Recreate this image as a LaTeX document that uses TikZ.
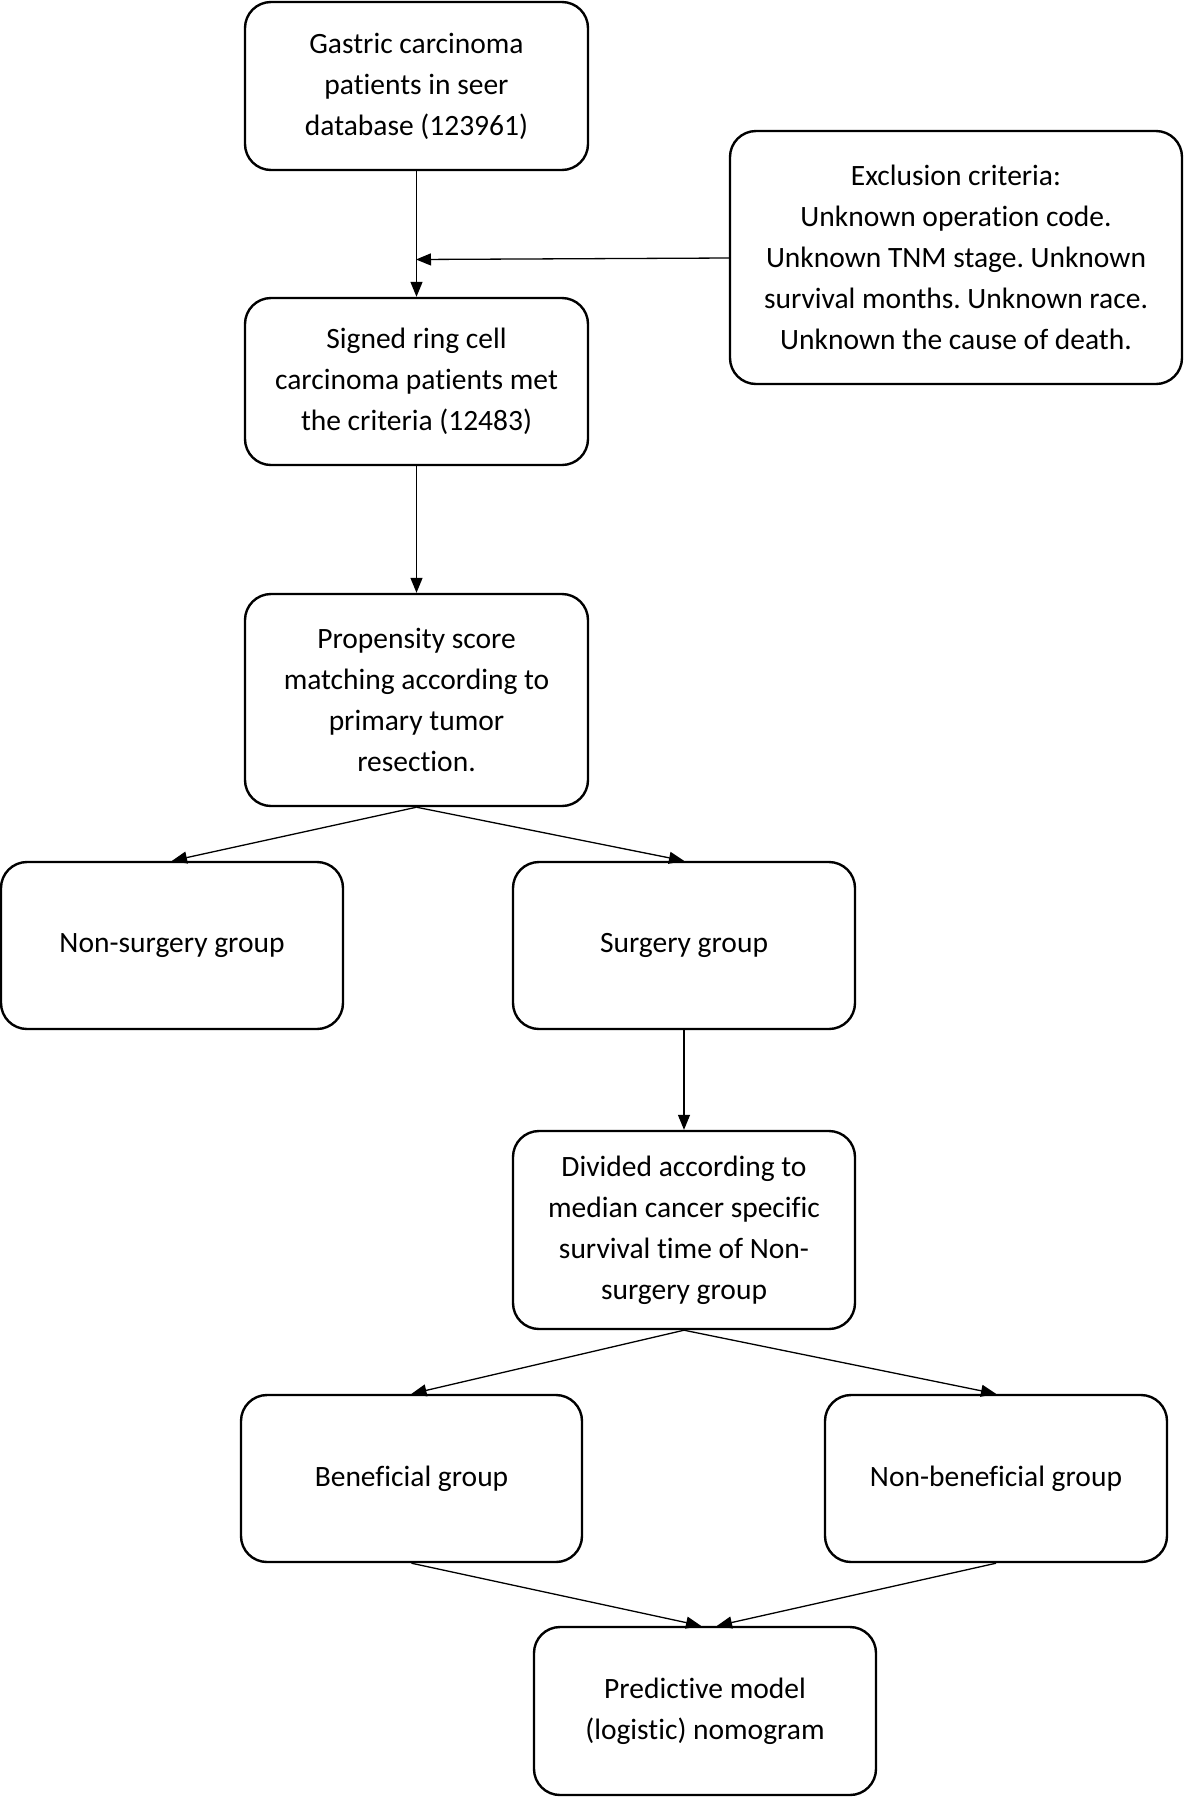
\documentclass[tikz,border=0pt]{standalone}
\usepackage{fontspec}
\setmainfont{Carlito}[Ligatures=NoCommon]
\usetikzlibrary{arrows.meta}
\frenchspacing
\begin{document}
\begin{tikzpicture}[x=1pt,y=-1pt,
  box/.style={draw=black,line width=2.4pt,rounded corners=26pt,align=center,
    inner sep=0pt,font=\fontsize{29.5}{41}\selectfont},
  conn/.style={line width=1.3pt,-{Triangle[length=15pt,width=12pt]}}]
\useasboundingbox (0,0) rectangle (1185,1797);
\node[box,minimum width=343pt,minimum height=168pt] (b1) at (416.5,86) {Gastric carcinoma\\patients in seer\\database (123961)};
\node[box,minimum width=452pt,minimum height=253pt] (ex) at (956,257.5) {Exclusion criteria:\\Unknown operation code.\\Unknown TNM stage. Unknown\\survival months. Unknown race.\\Unknown the cause of death.};
\node[box,minimum width=343pt,minimum height=167pt] (b2) at (416.5,381.5) {Signed ring cell\\carcinoma patients met\\the criteria (12483)};
\node[box,minimum width=343pt,minimum height=212pt] (b3) at (416.5,700) {Propensity score\\matching according to\\primary tumor\\resection.};
\node[box,minimum width=342pt,minimum height=167pt] (ns) at (172,945.5) {Non-surgery group};
\node[box,minimum width=342pt,minimum height=167pt] (sg) at (684,945.5) {Surgery group};
\node[box,minimum width=342pt,minimum height=198pt] (dv) at (684,1230) {Divided according to\\median cancer specific\\survival time of Non-\\surgery group};
\node[box,minimum width=341pt,minimum height=167pt] (bf) at (411.5,1478.5) {Beneficial group};
\node[box,minimum width=342pt,minimum height=167pt] (nb) at (996,1478.5) {Non-beneficial group};
\node[box,minimum width=342pt,minimum height=168pt] (pm) at (705,1711) {Predictive model\\(logistic) nomogram};
\coordinate (j) at (416,259.5);
\draw[conn] (b1.south) -- (b2.north);
\draw[conn] (ex.west |- 0,258) -- (j);
\draw[conn] (b2.south) -- (b3.north);
\draw[conn] (b3.south) -- (ns.north);
\draw[conn] (b3.south) -- (sg.north);
\draw[conn] (sg.south) -- (dv.north);
\draw[conn] (dv.south) -- (bf.north);
\draw[conn] (dv.south) -- (nb.north);
\draw[conn] (bf.south) -- ([xshift=-4pt]pm.north);
\draw[conn] (nb.south) -- ([xshift=12pt]pm.north);
\end{tikzpicture}
\end{document}
